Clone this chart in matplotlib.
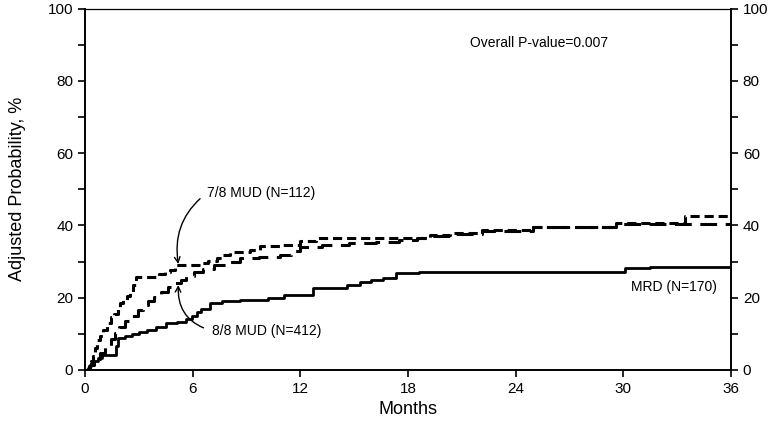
import matplotlib
matplotlib.use("Agg")
import matplotlib.pyplot as plt

plt.rcParams['font.family'] = ['Liberation Sans', 'DejaVu Sans']

# step curves (months, adjusted probability %)
mrd_t = [0, 0.15, 0.25, 0.35, 0.52, 0.72, 0.92, 1.72, 1.82, 2.23, 2.63, 3.03, 3.43, 3.94,
         4.54, 5.14, 5.65, 5.95, 6.25, 6.45, 6.95, 7.66, 8.66, 10.17, 11.08, 12.69, 14.6,
         15.3, 15.91, 16.61, 17.32, 18.62, 30.09, 31.5, 36]
mrd_p = [0, 0.5, 1.2, 1.8, 2.6, 3.4, 4.1, 6.5, 8.8, 9.3, 10.0, 10.5, 11.0, 12.0, 13.0, 13.3,
         14.0, 15.0, 16.0, 17.0, 18.5, 19.0, 19.3, 20.0, 20.7, 22.6, 23.5, 24.3, 25.0, 25.4,
         26.8, 27.2, 28.1, 28.5, 28.5]

mud78_t = [0, 0.2, 0.35, 0.45, 0.55, 0.67, 0.82, 1.02, 1.22, 1.42, 1.62, 1.82, 1.97, 2.13,
           2.33, 2.53, 2.68, 2.83, 4.14, 4.44, 4.74, 5.04, 6.45, 6.85, 7.36, 7.66, 8.06, 9.17,
           9.77, 10.88, 11.98, 12.89, 17.52, 19.23, 20.33, 22.14, 24.96, 29.59, 33.41, 36]
mud78_p = [0, 1.0, 2.5, 4.0, 6.0, 8.3, 9.5, 11.0, 13.0, 14.6, 15.5, 17.0, 18.5, 19.3, 20.5,
           21.5, 23.5, 25.7, 26.5, 27.0, 27.6, 29.0, 29.5, 30.2, 30.9, 31.8, 32.6, 33.1, 34.3, 34.5,
           35.6, 36.5, 36.5, 37.3, 37.8, 38.7, 39.5, 40.6, 42.6, 42.6]

mud88_t = [0, 0.26, 0.52, 0.82, 1.12, 1.42, 1.67, 1.92, 2.23, 2.53, 2.93, 3.23, 3.53, 3.84,
           4.24, 4.64, 4.94, 5.34, 5.65, 6.05, 6.55, 7.16, 7.86, 8.66, 9.67, 10.88, 11.48, 11.98,
           13.19, 14.7, 16.21, 17.52, 18.52, 19.23, 20.33, 22.14, 24.96, 29.59, 36]
mud88_p = [0, 1.5, 3.0, 4.7, 6.5, 8.5, 10.2, 11.9, 13.5, 15.0, 16.6, 18.0, 19.0, 20.2, 21.5,
           23.0, 24.0, 25.0, 26.0, 27.0, 28.0, 29.0, 30.0, 30.9, 31.3, 31.8, 33.0, 34.0, 34.5, 35.1,
           35.5, 35.9, 36.5, 37.0, 37.6, 38.5, 39.5, 40.4, 40.8]

xticks = [0, 6, 12, 18, 24, 30, 36]
yticks = [0, 20, 40, 60, 80, 100]

fig = plt.figure(figsize=(7.73, 4.26), dpi=100)
ax = fig.add_axes([0.110, 0.1315, 0.8357, 0.8485])

ax.step(mrd_t, mrd_p, where='post', color='black', lw=2.0)
ax.step(mud78_t, mud78_p, where='post', color='black', lw=2.2, dashes=(3, 1.6))
ax.step(mud88_t, mud88_p, where='post', color='black', lw=2.2, dashes=(5.5, 2.8))

ax.set_xlim(0, 36)
ax.set_ylim(0, 100)
ax.set_xticks(xticks)
ax.set_yticks(yticks)
ax.set_yticks([10, 30, 50, 70, 90], minor=True)
for side in ['left', 'right', 'bottom']:
    ax.spines[side].set_linewidth(1.4)
ax.spines['top'].set_linewidth(0.9)
ax.tick_params(axis='both', which='both', direction='out', labelsize=11,
               right=True, labelright=True, length=5, width=1.2)

ax.set_xlabel('Months', fontsize=13)
ax.set_ylabel('Adjusted Probability, %', fontsize=13, labelpad=16)

ax.text(25.3, 90.4, 'Overall P-value=0.007', fontsize=10, ha='center', va='center')
ax.text(32.8, 23.0, 'MRD (N=170)', fontsize=10, ha='center', va='center')

ax.annotate('7/8 MUD (N=112)', xy=(5.2, 29.3), xytext=(6.8, 49.0),
            fontsize=10, va='center', ha='left',
            arrowprops=dict(arrowstyle='->', color='black', lw=1,
                            connectionstyle='arc3,rad=0.3', relpos=(0, 0.5),
                            shrinkA=4, shrinkB=0))
ax.annotate('8/8 MUD (N=412)', xy=(5.2, 23.5), xytext=(7.05, 10.9),
            fontsize=10, va='center', ha='left',
            arrowprops=dict(arrowstyle='->', color='black', lw=1,
                            connectionstyle='arc3,rad=-0.4', relpos=(0, 0.5),
                            shrinkA=4, shrinkB=0))

fig.savefig('out.png', dpi=100)
